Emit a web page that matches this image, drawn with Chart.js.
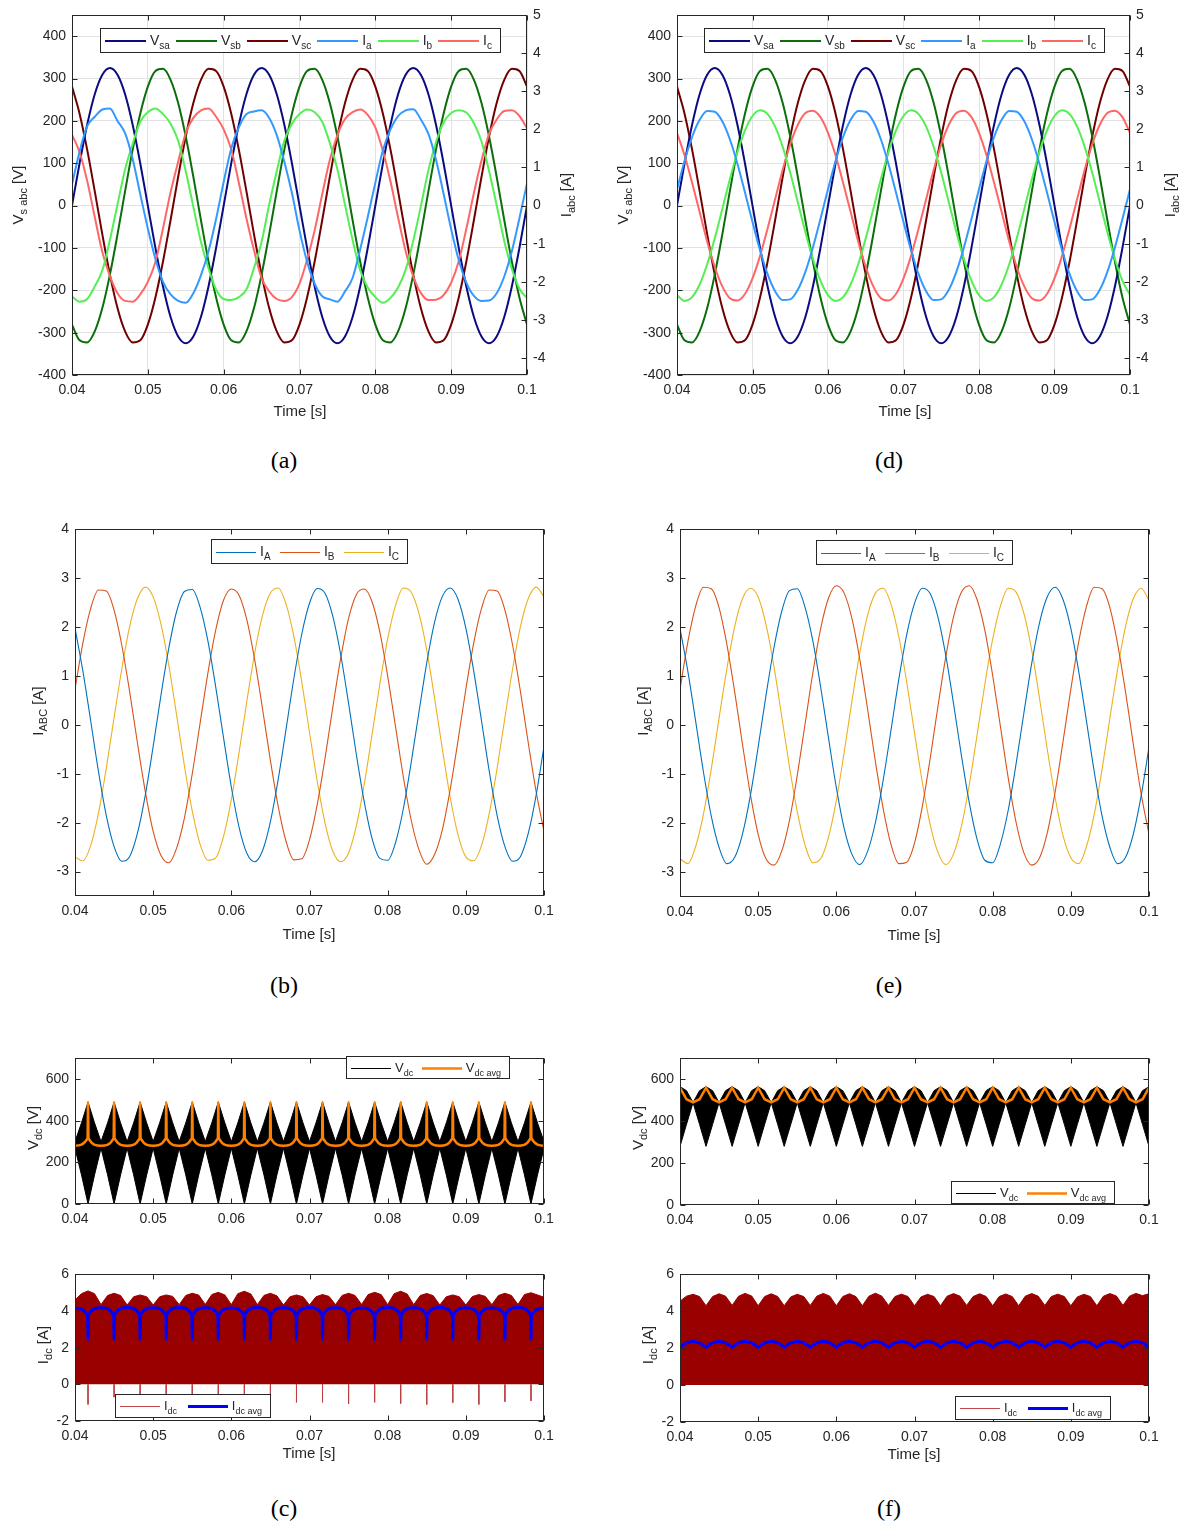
<!DOCTYPE html>
<html><head><meta charset="utf-8">
<script src="https://cdn.jsdelivr.net/npm/chart.js@4.4.0/dist/chart.umd.min.js"></script>
<style>
body{margin:0;background:#fff;width:1181px;height:1526px;position:relative;overflow:hidden;}
.lab{position:absolute;font-family:"Liberation Serif","Times New Roman",serif;font-size:24px;color:#000;width:60px;margin-left:-30px;text-align:center;line-height:28px;}
</style></head><body>
<div class="lab" style="left:284px;top:446px">(a)</div>
<div class="lab" style="left:889px;top:446px">(d)</div>
<div class="lab" style="left:284px;top:971px">(b)</div>
<div class="lab" style="left:889px;top:971px">(e)</div>
<div class="lab" style="left:284px;top:1494px">(c)</div>
<div class="lab" style="left:889px;top:1494px">(f)</div>
<script>
// ---------- time bases ----------
const tMs = [0.040,0.041,0.042,0.043,0.044,0.045,0.046,0.047,0.048,0.049,0.050,0.051,0.052,0.053,0.054,0.055,0.056,0.057,0.058,0.059,0.060,0.061,0.062,0.063,0.064,0.065,0.066,0.067,0.068,0.069,0.070,0.071,0.072,0.073,0.074,0.075,0.076,0.077,0.078,0.079,0.080,0.081,0.082,0.083,0.084,0.085,0.086,0.087,0.088,0.089,0.090,0.091,0.092,0.093,0.094,0.095,0.096,0.097,0.098,0.099,0.100];
const tQ = [0.04,0.04083,0.04167,0.0425,0.04333,0.04417,0.045,0.04583,0.04667,0.0475,0.04833,0.04917,
0.05,0.05083,0.05167,0.0525,0.05333,0.05417,0.055,0.05583,0.05667,0.0575,0.05833,0.05917,
0.06,0.06083,0.06167,0.0625,0.06333,0.06417,0.065,0.06583,0.06667,0.0675,0.06833,0.06917,
0.07,0.07083,0.07167,0.0725,0.07333,0.07417,0.075,0.07583,0.07667,0.0775,0.07833,0.07917,
0.08,0.08083,0.08167,0.0825,0.08333,0.08417,0.085,0.08583,0.08667,0.0875,0.08833,0.08917,
0.09,0.09083,0.09167,0.0925,0.09333,0.09417,0.095,0.09583,0.09667,0.0975,0.09833,0.09917,0.1];
const tValley = [0.04,0.043333,0.046667,0.05,0.053333,0.056667,0.06,0.063333,0.066667,0.07,0.073333,0.076667,0.08,0.083333,0.086667,0.09,0.093333,0.096667,0.1];
const tSpike = [0.041667,0.045,0.048333,0.051667,0.055,0.058333,0.061667,0.065,0.068333,0.071667,0.075,0.078333,0.081667,0.085,0.088333,0.091667,0.095,0.098333];

// ---------- (a)/(d) source voltages [V] ----------
const vSa = [0,100,191,263,309,325,309,263,191,100,0,-100,-191,-263,-309,-325,-309,-263,-191,-100,
0,100,191,263,309,325,309,263,191,100,0,-100,-191,-263,-309,-325,-309,-263,-191,-100,
0,100,191,263,309,325,309,263,191,100,0,-100,-191,-263,-309,-325,-309,-263,-191,-100,0];
const vSb = [-281,-318,-323,-297,-242,-163,-68,34,132,217,281,318,323,297,242,163,68,-34,-132,-217,
-281,-318,-323,-297,-242,-163,-68,34,132,217,281,318,323,297,242,163,68,-34,-132,-217,
-281,-318,-323,-297,-242,-163,-68,34,132,217,281,318,323,297,242,163,68,-34,-132,-217,-281];
const vSc = [281,217,132,34,-68,-163,-242,-297,-323,-318,-281,-217,-132,-34,68,163,242,297,323,318,
281,217,132,34,-68,-163,-242,-297,-323,-318,-281,-217,-132,-34,68,163,242,297,323,318,
281,217,132,34,-68,-163,-242,-297,-323,-318,-281,-217,-132,-34,68,163,242,297,323,318,281];
// ---------- (a) source currents [A] ----------
const iA_a = [0.55,1.42,2.08,2.33,2.52,2.55,2.22,1.90,1.22,0.30,-0.60,-1.40,-2.00,-2.33,-2.50,-2.55,-2.30,-1.83,-1.20,-0.35,
0.62,1.50,2.05,2.40,2.47,2.50,2.30,1.85,1.15,0.33,-0.65,-1.47,-2.05,-2.38,-2.46,-2.52,-2.25,-1.90,-1.15,-0.30,
0.60,1.45,2.00,2.35,2.50,2.53,2.26,1.88,1.20,0.31,-0.62,-1.43,-2.02,-2.37,-2.50,-2.49,-2.30,-1.86,-1.20,-0.33,0.58];
const iB_a = [-2.38,-2.52,-2.45,-2.12,-1.70,-0.90,0.03,0.95,1.62,2.20,2.45,2.55,2.40,2.15,1.70,0.90,-0.03,-0.95,-1.65,-2.20,
-2.45,-2.48,-2.40,-2.20,-1.64,-0.95,0.02,0.90,1.70,2.15,2.40,2.52,2.45,2.20,1.64,0.95,0.02,-0.90,-1.70,-2.15,
-2.40,-2.55,-2.42,-2.15,-1.68,-0.92,-0.02,0.93,1.66,2.18,2.43,2.50,2.44,2.16,1.68,0.91,0.01,-0.93,-1.66,-2.18,-2.42];
const iC_a = [1.86,1.40,0.65,-0.30,-1.22,-1.85,-2.30,-2.50,-2.52,-2.33,-2.00,-1.48,-0.60,0.35,1.15,1.90,2.30,2.50,2.55,2.33,
2.00,1.47,0.60,-0.33,-1.17,-1.90,-2.25,-2.45,-2.50,-2.40,-2.05,-1.42,-0.65,0.30,1.20,1.85,2.27,2.45,2.52,2.38,
2.05,1.43,0.63,-0.31,-1.20,-1.86,-2.29,-2.48,-2.47,-2.35,-2.02,-1.46,-0.61,0.33,1.18,1.88,2.26,2.48,2.50,2.35,2.03];
// ---------- (d) source currents [A] ----------
const iA_d = [0.43,1.17,1.80,2.25,2.48,2.46,2.21,1.74,1.10,0.35,-0.43,-1.17,-1.80,-2.25,-2.48,-2.46,-2.21,-1.74,-1.10,-0.35,
0.43,1.17,1.80,2.25,2.48,2.46,2.21,1.74,1.10,0.35,-0.43,-1.17,-1.80,-2.25,-2.48,-2.46,-2.21,-1.74,-1.10,-0.35,
0.43,1.17,1.80,2.25,2.48,2.46,2.21,1.74,1.10,0.35,-0.43,-1.17,-1.80,-2.25,-2.48,-2.46,-2.21,-1.74,-1.10,-0.35,0.43];
const iB_d = [-2.35,-2.50,-2.40,-2.07,-1.54,-0.86,-0.09,0.69,1.40,1.97,2.35,2.50,2.40,2.07,1.54,0.86,0.09,-0.69,-1.40,-1.97,
-2.35,-2.50,-2.40,-2.07,-1.54,-0.86,-0.09,0.69,1.40,1.97,2.35,2.50,2.40,2.07,1.54,0.86,0.09,-0.69,-1.40,-1.97,
-2.35,-2.50,-2.40,-2.07,-1.54,-0.86,-0.09,0.69,1.40,1.97,2.35,2.50,2.40,2.07,1.54,0.86,0.09,-0.69,-1.40,-1.97,-2.35];
const iC_d = [1.91,1.32,0.60,-0.17,-0.94,-1.61,-2.12,-2.43,-2.49,-2.32,-1.91,-1.32,-0.60,0.17,0.94,1.61,2.12,2.43,2.49,2.32,
1.91,1.32,0.60,-0.17,-0.94,-1.61,-2.12,-2.43,-2.49,-2.32,-1.91,-1.32,-0.60,0.17,0.94,1.61,2.12,2.43,2.49,2.32,
1.91,1.32,0.60,-0.17,-0.94,-1.61,-2.12,-2.43,-2.49,-2.32,-1.91,-1.32,-0.60,0.17,0.94,1.61,2.12,2.43,2.49,2.32,1.91];
// ---------- (b)/(e) load currents [A] ----------
const iA_b = [1.98,1.11,0.09,-0.95,-1.85,-2.49,-2.79,-2.69,-2.21,-1.43,-0.44,0.61,1.57,2.32,2.73,2.77,2.41,1.72,0.78,-0.26,-1.27,-2.10,-2.63,-2.80,-2.57,
-1.98,-1.11,-0.09,0.95,1.85,2.49,2.79,2.69,2.21,1.43,0.44,-0.61,-1.57,-2.32,-2.73,-2.77,-2.41,-1.72,-0.78,0.26,1.27,2.10,2.63,2.80,2.57,
1.98,1.11,0.09,-0.95,-1.85,-2.49,-2.79,-2.69,-2.21,-1.43,-0.44];
const iB_b = [0.73,1.67,2.38,2.76,2.74,2.35,1.62,0.67,-0.38,-1.37,-2.18,-2.67,-2.82,-2.52,-1.90,-1.00,0.03,1.06,1.94,2.55,2.78,2.65,2.14,1.32,0.32,
-0.73,-1.67,-2.38,-2.76,-2.74,-2.35,-1.62,-0.67,0.38,1.37,2.18,2.67,2.78,2.52,1.90,1.00,-0.03,-1.06,-1.94,-2.55,-2.85,-2.65,-2.14,-1.32,-0.32,
0.73,1.67,2.38,2.76,2.74,2.35,1.62,0.67,-0.38,-1.37,-2.18];
const iC_b = [-2.70,-2.78,-2.47,-1.81,-0.89,0.15,1.16,2.02,2.59,2.82,2.62,2.06,1.22,0.20,-0.84,-1.76,-2.44,-2.77,-2.72,-2.28,-1.53,-0.55,0.50,1.48,2.25,
2.70,2.80,2.47,1.81,0.89,-0.15,-1.16,-2.02,-2.59,-2.80,-2.62,-2.06,-1.22,-0.20,0.84,1.76,2.44,2.80,2.72,2.28,1.53,0.55,-0.50,-1.48,-2.25,
-2.70,-2.78,-2.47,-1.81,-0.89,0.15,1.16,2.02,2.59,2.82,2.62];
const iA_e = [1.98,1.11,0.09,-0.95,-1.85,-2.49,-2.82,-2.69,-2.21,-1.43,-0.44,0.61,1.57,2.32,2.75,2.79,2.41,1.72,0.78,-0.26,-1.27,-2.10,-2.63,-2.84,-2.57,
-1.98,-1.11,-0.09,0.95,1.85,2.49,2.80,2.69,2.21,1.43,0.44,-0.61,-1.57,-2.32,-2.75,-2.80,-2.41,-1.72,-0.78,0.26,1.27,2.10,2.63,2.82,2.57,
1.98,1.11,0.09,-0.95,-1.85,-2.49,-2.82,-2.69,-2.21,-1.43,-0.44];
const iB_e = [0.74,1.70,2.43,2.82,2.79,2.40,1.65,0.68,-0.39,-1.40,-2.22,-2.72,-2.85,-2.57,-1.94,-1.02,0.03,1.08,1.98,2.60,2.85,2.70,2.18,1.35,0.33,
-0.74,-1.70,-2.43,-2.82,-2.79,-2.40,-1.65,-0.68,0.39,1.40,2.22,2.72,2.85,2.57,1.94,1.02,-0.03,-1.08,-1.98,-2.60,-2.85,-2.70,-2.18,-1.35,-0.33,
0.74,1.70,2.43,2.82,2.79,2.40,1.65,0.68,-0.39,-1.40,-2.22];
const iC_e = [-2.72,-2.82,-2.47,-1.81,-0.89,0.15,1.16,2.02,2.59,2.80,2.62,2.06,1.22,0.20,-0.84,-1.76,-2.44,-2.80,-2.72,-2.28,-1.53,-0.55,0.50,1.48,2.25,
2.70,2.80,2.47,1.81,0.89,-0.15,-1.16,-2.02,-2.59,-2.84,-2.62,-2.06,-1.22,-0.20,0.84,1.76,2.44,2.80,2.72,2.28,1.53,0.55,-0.50,-1.48,-2.25,
-2.70,-2.82,-2.47,-1.81,-0.89,0.15,1.16,2.02,2.59,2.80,2.55];
// ---------- (c) dc link ----------
const vdcTop_c = [300,390,490,390,300,390,490,390,300,390,490,390,300,390,490,390,300,390,490,390,300,390,490,390,
300,390,490,390,300,390,490,390,300,390,490,390,300,390,490,390,300,390,490,390,300,390,490,390,
300,390,490,390,300,390,490,390,300,390,490,390,300,390,490,390,300,390,490,390,300,390,490,390,300];
const vdcBot_c = [268,140,0,140,268,140,0,140,268,140,0,140,268,140,0,140,268,140,0,140,268,140,0,140,
268,140,0,140,268,140,0,140,268,140,0,140,268,140,0,140,268,140,0,140,268,140,0,140,
268,140,0,140,268,140,0,140,268,140,0,140,268,140,0,140,268,140,0,140,268,140,0,140,268];
const vdcAvgValley_c = [280,280,280,280,280,280,280,280,280,280,280,280,280,280,280,280,280,280,280];
const vdcAvgCusp_c = [316,316,316,316,316,316,316,316,316,316,316,316,316,316,316,316,316,316];
const vdcAvgSpike_c = [490,490,490,490,490,490,490,490,490,490,490,490,490,490,490,490,490,490];
const idcTop_c = [4.60,4.95,5.10,4.95, 4.35,4.85,4.97,4.85, 4.33,4.78,4.88,4.78, 4.33,4.78,4.88,4.80, 4.35,4.85,4.97,4.87, 4.36,4.90,5.02,4.88,
4.35,4.95,5.08,4.93, 4.35,4.85,4.97,4.83, 4.33,4.78,4.88,4.78, 4.33,4.78,4.90,4.80, 4.35,4.85,4.97,4.85, 4.36,4.90,5.02,4.90,
4.35,4.95,5.08,4.93, 4.35,4.85,4.96,4.84, 4.33,4.78,4.88,4.78, 4.33,4.79,4.90,4.80, 4.35,4.85,4.97,4.85, 4.36,4.90,5.00,4.88, 4.75];
const idcNegSpike_c = [-1.1,-0.7,-0.7,-0.7,-0.7,-0.7,-0.7,-0.7,-0.98,-0.98,-1.07,-0.98,-1.05,-1.1,-1.0,-1.1,-0.95,-0.9];
const idcAvgArch_c = [4.15,4.18,4.20,4.18,4.20,4.18,4.17,4.20,4.18,4.20,4.18,4.17,4.20,4.18,4.20,4.18,4.17,4.20,4.15];
const idcAvgCusp_c = [3.80,3.80,3.80,3.80,3.80,3.80,3.80,3.80,3.80,3.80,3.80,3.80,3.80,3.80,3.80,3.80,3.80,3.80];
const idcAvgSpike_c = [2.45,2.45,2.45,2.45,2.45,2.45,2.45,2.45,2.45,2.45,2.45,2.45,2.45,2.45,2.45,2.45,2.45,2.45];
// ---------- (f) dc link ----------
const vdcTop_f = [565,546,489,546,565,546,489,546,565,546,489,546,565,546,489,546,565,546,489,546,565,546,489,546,
565,546,489,546,565,546,489,546,565,546,489,546,565,546,489,546,565,546,489,546,565,546,489,546,
565,546,489,546,565,546,489,546,565,546,489,546,565,546,489,546,565,546,489,546,565,546,489,546,565];
const vdcBot_f = [280,385,489,385,280,385,489,385,280,385,489,385,280,385,489,385,280,385,489,385,280,385,489,385,
280,385,489,385,280,385,489,385,280,385,489,385,280,385,489,385,280,385,489,385,280,385,489,385,
280,385,489,385,280,385,489,385,280,385,489,385,280,385,489,385,280,385,489,385,280,385,489,385,280];
const vdcAvg_f = [560,505,490,505,560,505,490,505,560,505,490,505,560,505,490,505,560,505,490,505,560,505,490,505,
560,505,490,505,560,505,490,505,560,505,490,505,560,505,490,505,560,505,490,505,560,505,490,505,
560,505,490,505,560,505,490,505,560,505,490,505,560,505,490,505,560,505,490,505,560,505,490,505,560];
const idcTop_f = [4.55,4.82,4.92,4.80, 4.30,4.80,4.95,4.82, 4.32,4.82,4.97,4.83, 4.30,4.80,4.95,4.80, 4.30,4.78,4.92,4.80, 4.32,4.82,4.97,4.82,
4.30,4.80,4.95,4.80, 4.30,4.82,4.98,4.82, 4.32,4.80,4.93,4.80, 4.30,4.78,4.92,4.80, 4.30,4.82,4.96,4.82, 4.32,4.80,4.95,4.80,
4.30,4.80,4.94,4.80, 4.30,4.82,4.96,4.82, 4.32,4.80,4.93,4.80, 4.30,4.78,4.92,4.80, 4.30,4.82,4.96,4.83, 4.32,4.82,4.97,4.85, 4.95];
const idcAvg_f = [2.05,2.30,2.37,2.30,2.05,2.30,2.37,2.30,2.05,2.30,2.37,2.30,2.05,2.30,2.37,2.30,2.05,2.30,2.37,2.30,2.05,2.30,2.37,2.30,
2.05,2.30,2.37,2.30,2.05,2.30,2.37,2.30,2.05,2.30,2.37,2.30,2.05,2.30,2.37,2.30,2.05,2.30,2.37,2.30,2.05,2.30,2.37,2.30,
2.05,2.30,2.37,2.30,2.05,2.30,2.37,2.30,2.05,2.30,2.37,2.30,2.05,2.30,2.37,2.30,2.05,2.30,2.37,2.30,2.05,2.30,2.37,2.30,2.05];

// ---------- helpers ----------
const FONT = '"Liberation Sans", Arial, Helvetica, sans-serif';
const AX = '#262626';
Chart.defaults.font.family = FONT;
Chart.defaults.color = AX;
const xy = (t, v) => t.map((x, i) => ({x, y: v[i]}));
function avgPts(tv, ts, valley, cusp, spike){
  const d = 0.00006, out = [];
  for (let i = 0; i < ts.length; i++){
    out.push({x: tv[i], y: valley[i]}, {x: ts[i]-d, y: cusp[i]}, {x: ts[i], y: spike[i]}, {x: ts[i]+d, y: cusp[i]});
  }
  out.push({x: tv[tv.length-1], y: valley[valley.length-1]});
  return out;
}
function spikePts(ts, depth){
  const out = [];
  ts.forEach((x, i) => out.push({x, y: 0}, {x, y: depth[i]}, {x, y: null}));
  return out;
}
function line(data, color, w, extra){
  return Object.assign({data, borderColor: color, borderWidth: w, pointRadius: 0, fill: false, cubicInterpolationMode: 'monotone'}, extra || {});
}
function richW(ctx, segs, size){
  let w = 0;
  for (const s of segs){ ctx.font = (s.s ? Math.round(size*0.72) : size) + 'px ' + FONT; w += ctx.measureText(s.t).width; }
  return w;
}
function richDraw(ctx, segs, x, y, size){
  let cx = x;
  for (const s of segs){
    ctx.font = (s.s ? Math.round(size*0.72) : size) + 'px ' + FONT;
    ctx.fillText(s.t, cx, s.s ? y + size*0.28 : y);
    cx += ctx.measureText(s.t).width;
  }
}
function drawTitle(ctx, segs, x, y, size, rot){
  ctx.save(); ctx.translate(x, y); if (rot) ctx.rotate(-Math.PI/2);
  ctx.fillStyle = AX; ctx.textBaseline = 'alphabetic'; ctx.textAlign = 'left';
  const w = richW(ctx, segs, size);
  richDraw(ctx, segs, -w/2, size*0.35, size);
  ctx.restore();
}
function drawLegend(ctx, L, off){
  const x = L.x - off.x, y = L.y - off.y, size = L.size || 14, ll = L.lineLen || 40, pad = 5, g1 = 4;
  ctx.save();
  ctx.fillStyle = '#fff'; ctx.fillRect(x, y, L.w, L.h);
  ctx.strokeStyle = AX; ctx.lineWidth = 1; ctx.strokeRect(x + 0.5, y + 0.5, L.w - 1, L.h - 1);
  const tw = L.items.map(it => richW(ctx, it.segs, size));
  const total = tw.reduce((a, b) => a + b, 0) + L.items.length * (ll + g1);
  const gap = (L.w - 2*pad - 4 - total) / Math.max(1, L.items.length - 1);
  let cx = x + pad;
  const cy = Math.round(y + L.h/2);
  ctx.textBaseline = 'alphabetic'; ctx.textAlign = 'left';
  L.items.forEach((it, i) => {
    ctx.strokeStyle = it.c; ctx.lineWidth = it.lw;
    const ly = (Math.round(it.lw) % 2 === 1) ? cy + 0.5 : cy;
    ctx.beginPath(); ctx.moveTo(Math.round(cx), ly); ctx.lineTo(Math.round(cx + ll), ly); ctx.stroke();
    ctx.fillStyle = AX;
    richDraw(ctx, it.segs, cx + ll + g1, cy + size*0.3, size);
    cx += ll + g1 + tw[i] + gap;
  });
  ctx.restore();
}
const matPlugin = {
  id: 'mat',
  afterDraw(chart, args, o){
    const ctx = chart.ctx, a = chart.chartArea, off = o.off;
    ctx.save();
    ctx.strokeStyle = AX; ctx.lineWidth = 1;
    const L = Math.round(a.left) + 0.5, R = Math.round(a.right) - 0.5, T = Math.round(a.top) + 0.5, B = Math.round(a.bottom) - 0.5;
    const tl = 5;
    ctx.beginPath();
    const xs = chart.scales.x, ys = chart.scales.y, y2 = chart.scales.y2;
    xs.ticks.forEach(t => { const p = Math.round(xs.getPixelForValue(t.value)) + 0.5; ctx.moveTo(p, B); ctx.lineTo(p, B - tl); ctx.moveTo(p, T); ctx.lineTo(p, T + tl); });
    ys.ticks.forEach(t => { const p = Math.round(ys.getPixelForValue(t.value)) + 0.5; ctx.moveTo(L, p); ctx.lineTo(L + tl, p); if (!y2){ ctx.moveTo(R, p); ctx.lineTo(R - tl, p); } });
    if (y2) y2.ticks.forEach(t => { const p = Math.round(y2.getPixelForValue(t.value)) + 0.5; ctx.moveTo(R, p); ctx.lineTo(R - tl, p); });
    ctx.stroke();
    ctx.strokeRect(L, T, R - L, B - T);
    if (o.legend) drawLegend(ctx, o.legend, off);
    (o.titles || []).forEach(tt => drawTitle(ctx, tt.segs, tt.x - off.x, tt.y - off.y, tt.size || 15, tt.rot));
    ctx.restore();
  }
};
function mk(p){
  const [l, t, r, b] = p.box, [mL, mT, mR, mB] = p.m;
  const W = r - l + mL + mR, H = b - t + mT + mB;
  const cv = document.createElement('canvas');
  cv.width = W; cv.height = H;
  cv.style.cssText = `position:absolute;left:${l - mL}px;top:${t - mT}px;width:${W}px;height:${H}px`;
  document.body.appendChild(cv);
  const off = {x: l - mL, y: t - mT};
  const tf = {size: 14, family: FONT};
  const gridOpt = {display: !!p.grid, drawTicks: false, color: '#e2e2e2', lineWidth: 1};
  const scales = {
    x: {type: 'linear', min: 0.04, max: 0.1, border: {display: false}, grid: gridOpt,
        ticks: {stepSize: 0.01, includeBounds: false, autoSkip: false, maxRotation: 0, padding: 7, color: AX, font: tf, callback: v => String(+v.toFixed(2))},
        afterFit: s => { s.height = mB; }},
    y: {type: 'linear', min: p.y[0], max: p.y[1], border: {display: false}, grid: gridOpt,
        ticks: {stepSize: p.y[2], includeBounds: false, padding: 6, color: AX, font: tf},
        afterFit: s => { s.width = mL; }}
  };
  if (p.y2) scales.y2 = {type: 'linear', position: 'right', min: p.y2[0], max: p.y2[1], border: {display: false}, grid: {display: false, drawTicks: false},
        ticks: {stepSize: p.y2[2], includeBounds: false, padding: 6, color: AX, font: tf},
        afterFit: s => { s.width = mR; }};
  new Chart(cv, {
    type: 'line',
    data: {datasets: p.datasets},
    options: {
      responsive: false, animation: false, devicePixelRatio: 1, events: [],
      layout: {padding: {left: 0, top: mT, right: p.y2 ? 0 : mR, bottom: 0}},
      scales,
      plugins: {legend: {display: false}, tooltip: {enabled: false}, mat: {off, legend: p.legend, titles: p.titles}}
    },
    plugins: [matPlugin]
  });
}
const S = (t, s) => ({t, s});
const sixLegend = (x) => ({x, y: 28, w: 401, h: 25, size: 14, lineLen: 41, items: [
  {c: '#0b0b80', lw: 2, segs: [S('V'), S('sa', 1)]}, {c: '#0b6e0b', lw: 2, segs: [S('V'), S('sb', 1)]}, {c: '#700000', lw: 2, segs: [S('V'), S('sc', 1)]},
  {c: '#3399ff', lw: 2, segs: [S('I'), S('a', 1)]}, {c: '#55ee55', lw: 2, segs: [S('I'), S('b', 1)]}, {c: '#ff6666', lw: 2, segs: [S('I'), S('c', 1)]}]});
const threeLegend = (x, y) => ({x, y, w: 197, h: 25, size: 14, lineLen: 40, items: [
  {c: '#0072BD', lw: 1, segs: [S('I'), S('A', 1)]}, {c: '#D95319', lw: 1, segs: [S('I'), S('B', 1)]}, {c: '#EDB120', lw: 1, segs: [S('I'), S('C', 1)]}]});
const vdcLegend = (x, y) => ({x, y, w: 164, h: 23, size: 13, lineLen: 40, items: [
  {c: '#000', lw: 1, segs: [S('V'), S('dc', 1)]}, {c: '#ff8000', lw: 2.5, segs: [S('V'), S('dc avg', 1)]}]});
const idcLegend = (x, y) => ({x, y, w: 156, h: 24, size: 13, lineLen: 40, items: [
  {c: '#c04848', lw: 1, segs: [S('I'), S('dc', 1)]}, {c: '#0000ff', lw: 3, segs: [S('I'), S('dc avg', 1)]}]});
const TIME = [S('Time [s]')];

// (a)
mk({box: [72, 15, 527, 375], m: [72, 15, 54, 50], y: [-400, 450, 100], y2: [-400/90, 5, 1], grid: true,
  datasets: [
    line(xy(tMs, iA_a), '#3399ff', 2, {yAxisID: 'y2'}), line(xy(tMs, iB_a), '#55ee55', 2, {yAxisID: 'y2'}), line(xy(tMs, iC_a), '#ff6666', 2, {yAxisID: 'y2'}),
    line(xy(tMs, vSa), '#0b0b80', 2), line(xy(tMs, vSb), '#0b6e0b', 2), line(xy(tMs, vSc), '#700000', 2)],
  legend: sixLegend(100),
  titles: [{segs: [S('V'), S('s abc', 1), S(' [V]')], x: 18, y: 195, rot: 1}, {segs: [S('I'), S('abc', 1), S(' [A]')], x: 566, y: 195, rot: 1}, {segs: TIME, x: 300, y: 411}]});
// (d)
mk({box: [677, 15, 1130, 375], m: [72, 15, 51, 50], y: [-400, 450, 100], y2: [-400/90, 5, 1], grid: true,
  datasets: [
    line(xy(tMs, iA_d), '#3399ff', 2, {yAxisID: 'y2'}), line(xy(tMs, iB_d), '#55ee55', 2, {yAxisID: 'y2'}), line(xy(tMs, iC_d), '#ff6666', 2, {yAxisID: 'y2'}),
    line(xy(tMs, vSa), '#0b0b80', 2), line(xy(tMs, vSb), '#0b6e0b', 2), line(xy(tMs, vSc), '#700000', 2)],
  legend: sixLegend(704),
  titles: [{segs: [S('V'), S('s abc', 1), S(' [V]')], x: 623, y: 195, rot: 1}, {segs: [S('I'), S('abc', 1), S(' [A]')], x: 1170, y: 195, rot: 1}, {segs: TIME, x: 905, y: 411}]});
// (b)
mk({box: [75, 527, 544, 896], m: [75, 12, 22, 50], y: [-3.5, 4, 1],
  datasets: [line(xy(tMs, iA_b), '#0072BD', 1.1), line(xy(tMs, iB_b), '#D95319', 1.1), line(xy(tMs, iC_b), '#EDB120', 1.1)],
  legend: threeLegend(211, 539),
  titles: [{segs: [S('I'), S('ABC', 1), S(' [A]')], x: 38, y: 711, rot: 1}, {segs: TIME, x: 309, y: 934}]});
// (e)
mk({box: [680, 527, 1149, 897], m: [75, 12, 22, 50], y: [-3.5, 4, 1],
  datasets: [line(xy(tMs, iA_e), '#0072BD', 1.1), line(xy(tMs, iB_e), '#D95319', 1.1), line(xy(tMs, iC_e), '#EDB120', 1.1)],
  legend: threeLegend(816, 540),
  titles: [{segs: [S('I'), S('ABC', 1), S(' [A]')], x: 643, y: 711, rot: 1}, {segs: TIME, x: 914, y: 935}]});
// (c) top
mk({box: [75, 1052, 544, 1204], m: [75, 8, 22, 26], y: [0, 700, 200],
  datasets: [
    line(avgPts(tValley, tSpike, vdcAvgValley_c, vdcAvgCusp_c, vdcAvgSpike_c), '#ff8000', 2.5),
    line(xy(tQ, vdcBot_c), '#000', 1, {cubicInterpolationMode: 'default', tension: 0}),
    line(xy(tQ, vdcTop_c), '#000', 1, {cubicInterpolationMode: 'default', tension: 0, fill: 1, backgroundColor: '#000'})],
  legend: vdcLegend(346, 1056),
  titles: [{segs: [S('V'), S('dc', 1), S(' [V]')], x: 33, y: 1128, rot: 1}]});
// (c) bottom
mk({box: [75, 1268, 544, 1421], m: [75, 8, 22, 45], y: [-2, 6, 2],
  datasets: [
    line(avgPts(tValley, tSpike, idcAvgArch_c, idcAvgCusp_c, idcAvgSpike_c), '#0000ff', 3),
    line(spikePts(tSpike, idcNegSpike_c), '#b84040', 1, {cubicInterpolationMode: 'default', tension: 0, spanGaps: false}),
    line(xy(tQ, idcTop_c), '#990000', 1, {cubicInterpolationMode: 'default', tension: 0, fill: 'origin', backgroundColor: '#990000'})],
  legend: idcLegend(115, 1394),
  titles: [{segs: [S('I'), S('dc', 1), S(' [A]')], x: 43, y: 1345, rot: 1}, {segs: TIME, x: 309, y: 1453}]});
// (f) top
mk({box: [680, 1052, 1149, 1205], m: [75, 8, 22, 26], y: [0, 700, 200],
  datasets: [
    line(xy(tQ, vdcAvg_f), '#ff8000', 2.5, {cubicInterpolationMode: 'default', tension: 0}),
    line(xy(tQ, vdcBot_f), '#000', 1, {cubicInterpolationMode: 'default', tension: 0}),
    line(xy(tQ, vdcTop_f), '#000', 1, {cubicInterpolationMode: 'default', tension: 0, fill: 1, backgroundColor: '#000'})],
  legend: vdcLegend(951, 1181),
  titles: [{segs: [S('V'), S('dc', 1), S(' [V]')], x: 638, y: 1128, rot: 1}]});
// (f) bottom
mk({box: [680, 1268, 1149, 1422], m: [75, 8, 22, 45], y: [-2, 6, 2],
  datasets: [
    line(xy(tQ, idcAvg_f), '#0000ff', 3, {cubicInterpolationMode: 'default', tension: 0}),
    line(xy(tQ, idcTop_f), '#990000', 1, {cubicInterpolationMode: 'default', tension: 0, fill: 'origin', backgroundColor: '#990000'})],
  legend: idcLegend(955, 1396),
  titles: [{segs: [S('I'), S('dc', 1), S(' [A]')], x: 648, y: 1345, rot: 1}, {segs: TIME, x: 914, y: 1454}]});
</script>
</body></html>
